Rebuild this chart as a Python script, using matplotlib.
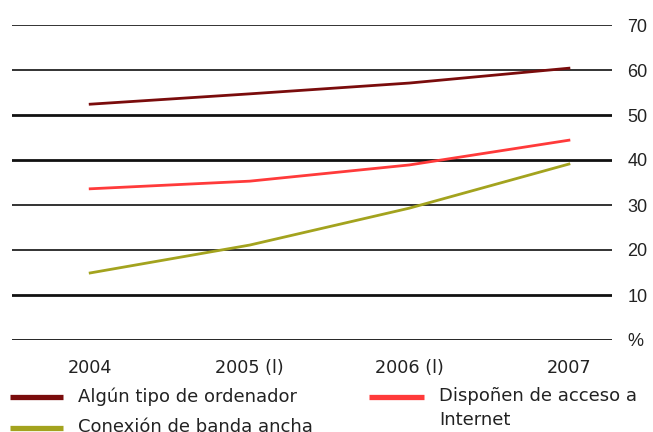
import matplotlib

matplotlib.use("Agg")
import matplotlib.pyplot as plt
from matplotlib.lines import Line2D

years = ["2004", "2005 (l)", "2006 (l)", "2007"]
ordenador = [52.4, 54.7, 57.1, 60.4]
internet = [33.6, 35.3, 38.9, 44.4]
banda_ancha = [14.9, 21.1, 29.3, 39.1]

y_ticks = [0, 10, 20, 30, 40, 50, 60, 70]
y_labels = ["%", "10", "20", "30", "40", "50", "60", "70"]
thick_lines = [0, 10, 40, 50]

# label, values, colour, legend slot (pixels from top-left: line x0, x1, y)
series = [
    ("Algún tipo de ordenador", ordenador, "#7a0c0c", (10, 63, 397)),
    ("Conexión de banda ancha", banda_ancha, "#a3a31e", (10, 63, 428)),
    ("Dispoñen de acceso a\nInternet", internet, "#ff3a3a", (369, 424, 397)),
]

W, H = 653, 432
TEXT = "#222222"
fig = plt.figure(figsize=(W / 100, H / 100), dpi=100)
ax = fig.add_axes([12 / W, (H - 340) / H, 600 / W, 315 / H])

for v in y_ticks:
    lw = 2.0 if v in thick_lines else 1.2
    ax.axhline(v, color="#111111", linewidth=lw, zorder=1)

x = list(range(len(years)))
for label, values, color, _ in series:
    ax.plot(x, values, color=color, linewidth=2.0, zorder=3)

ax.set_ylim(0, 70)
ax.set_xlim(-0.49, 3.27)
for s in ax.spines.values():
    s.set_visible(False)

ax.yaxis.tick_right()
ax.set_yticks(y_ticks)
ax.set_yticklabels(y_labels, fontsize=13, color=TEXT, family="Liberation Sans")
ax.tick_params(axis="y", length=0, pad=11)
ax.set_xticks(x)
ax.set_xticklabels(years, fontsize=12.7, color=TEXT)
ax.tick_params(axis="x", length=0, pad=14)

# legend, laid out by hand so the two-line entry is top aligned
for label, _, color, (x0, x1, y) in series:
    fig.add_artist(Line2D([x0 / W, x1 / W], [1 - y / H, 1 - y / H],
                          color=color, linewidth=3.8, solid_capstyle="butt"))
    fig.text((x1 + 15) / W, 1 - (y - 10) / H, label, fontsize=13, color=TEXT,
             va="top", ha="left", linespacing=1.45)

fig.savefig("out.png", dpi=100)
